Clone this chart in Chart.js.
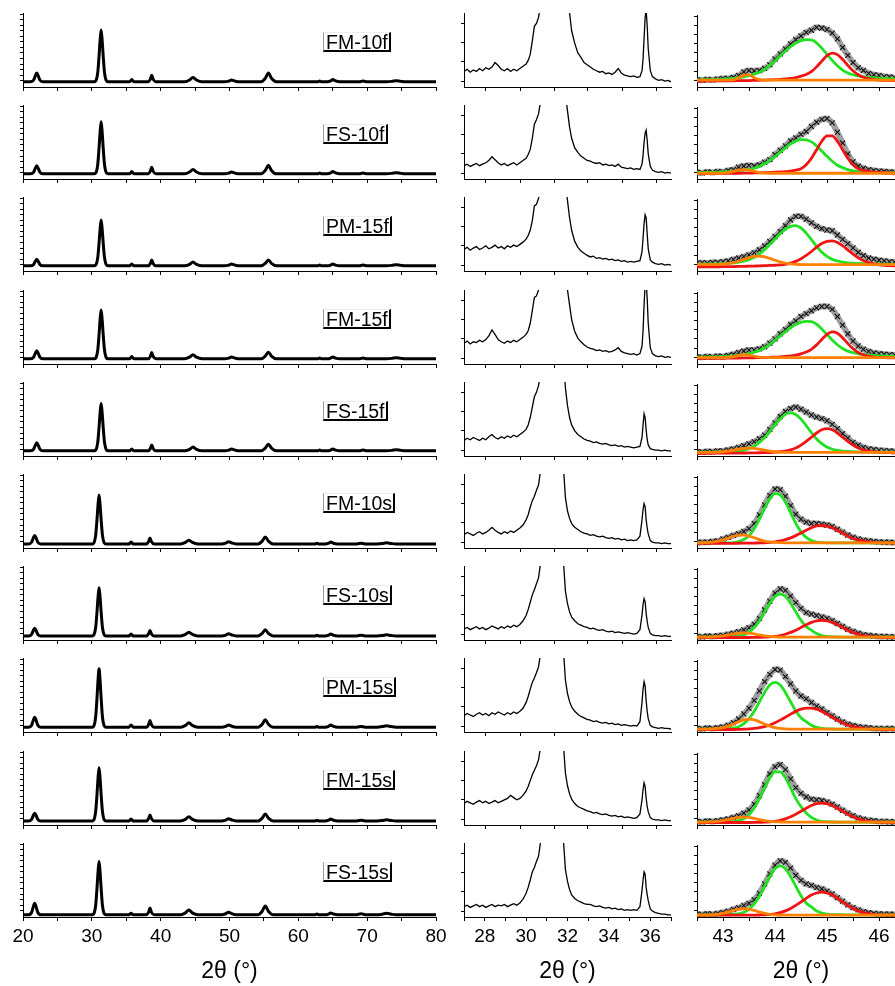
<!DOCTYPE html>
<html><head><meta charset="utf-8">
<script src="https://cdn.jsdelivr.net/npm/chart.js@4/dist/chart.umd.min.js"></script>
<style>
html,body{margin:0;padding:0;background:#fff;overflow:hidden;width:895px;height:986px;position:relative;}
canvas{position:absolute;}
.lbl{position:absolute;font-family:"Liberation Sans",Arial,sans-serif;font-size:19.5px;line-height:16px;color:#000;
 border-left:1px solid #9a9a9a;border-top:1px solid #ececec;border-right:2px solid #000;border-bottom:2px solid #000;
 padding:1px 1px 0 2px;background:#fff;white-space:nowrap;}
</style></head><body>
<script>
// ---------------- DATA ----------------
const sampleNames = ['FM-10f','FS-10f','PM-15f','FM-15f','FS-15f','FM-10s','FS-10s','PM-15s','FM-15s','FS-15s'];

// Column 1: full scans 20-80 deg
const scanX_f = [20,21.1,21.55,21.75,22.0,22.25,22.45,22.9, 30.35,30.85,31.05,31.2,31.35,31.5,31.65,31.85,32.35, 35.5,35.8,36.1, 38.2,38.5,38.7,38.9,39.3, 43.5,44.2,44.7,45.2,46.0, 49.3,49.9,50.3,50.8,51.4, 54.6,55.2,55.65,56.1,56.8, 62.8,63.1,63.4, 64.2,64.7,65.0,65.4,66.0, 68.8,69.4,70.0, 72.8,73.6,74.2,74.9,75.6, 80];
const scanX_s = [20,20.8,21.25,21.45,21.7,21.95,22.15,22.6, 30.05,30.55,30.75,30.9,31.05,31.2,31.35,31.55,32.05, 35.4,35.7,36.0, 37.95,38.25,38.45,38.65,39.05, 42.9,43.6,44.1,44.6,45.4, 48.85,49.45,49.85,50.35,50.95, 54.15,54.75,55.2,55.65,56.35, 62.4,62.7,63.0, 63.9,64.4,64.7,65.1,65.7, 68.5,69.1,69.7, 71.4,72.2,72.8,73.5,74.2, 80];
const fullScan = [
 [7,7,9.4,14.2,19,14.2,9.4,7, 7,18.9,42,63,77,63,42,18.9,7, 7,10,7, 7,10.6,16,10.6,7, 7,9.4,13,9.4,7, 7,8,9.5,8,7, 7,11.8,19,11.8,7, 7,8,7, 7,8.2,10,8.2,7, 7,8,7, 7,7.6,8.5,7.6,7, 7],
 [7,7,9.2,13.6,18,13.6,9.2,7, 7,19,42.3,63.4,77.5,63.4,42.3,19,7, 7,10,7, 7,10.6,16,10.6,7, 7,9.4,13,9.4,7, 7,8,9.5,8,7, 7,11.6,18.5,11.6,7, 7,8,7, 7,8.2,10,8.2,7, 7,8,7, 7,7.6,8.5,7.6,7, 7],
 [7,7,8.8,12.4,16,12.4,8.8,7, 7,17.5,38,56.6,69,56.6,38,17.5,7, 7,9.5,7, 7,10.2,15,10.2,7, 7,9,12,9,7, 7,8,9.5,8,7, 7,10.2,15,10.2,7, 7,8,7, 7,8,9.5,8,7, 7,8,7, 7,7.6,8.5,7.6,7, 7],
 [7,7,9.2,13.6,18,13.6,9.2,7, 7,18.2,40,59.8,73,59.8,40,18.2,7, 7,10,7, 7,10.4,15.5,10.4,7, 7,9.2,12.5,9.2,7, 7,8,9.5,8,7, 7,10.6,16,10.6,7, 7,8,7, 7,8,9.5,8,7, 7,8,7, 7,7.6,8.5,7.6,7, 7],
 [7,7,9.2,13.6,18,13.6,9.2,7, 7,17.9,39,58.2,71,58.2,39,17.9,7, 7,9.5,7, 7,10.2,15,10.2,7, 7,9,12,9,7, 7,8,9.5,8,7, 7,10.6,16,10.6,7, 7,8,7, 7,8,9.5,8,7, 7,8,7, 7,7.6,8.5,7.6,7, 7],
 [5.5,5.5,7.8,12.4,17,12.4,7.8,5.5, 5.5,16.7,38.5,58.3,71.5,58.3,38.5,16.7,5.5, 5.5,8,5.5, 5.5,8.7,13.5,8.7,5.5, 5.5,7.5,10.5,7.5,5.5, 5.5,6.7,8.5,6.7,5.5, 5.5,9.3,15,9.3,5.5, 5.5,6.5,5.5, 5.5,6.5,8,6.5,5.5, 5.5,6.5,5.5, 5.5,6.1,7,6.1,5.5, 5.5],
 [5.5,5.5,7.6,11.8,16,11.8,7.6,5.5, 5.5,16.5,38,57.5,70.5,57.5,38,16.5,5.5, 5.5,8,5.5, 5.5,8.5,13,8.5,5.5, 5.5,7.5,10.5,7.5,5.5, 5.5,6.7,8.5,6.7,5.5, 5.5,8.9,14,8.9,5.5, 5.5,6.5,5.5, 5.5,6.5,8,6.5,5.5, 5.5,6.5,5.5, 5.5,6.1,7,6.1,5.5, 5.5],
 [6.5,6.5,9.2,14.6,20,14.6,9.2,6.5, 6.5,19.9,46,69.7,85.5,69.7,46,19.9,6.5, 6.5,9.5,6.5, 6.5,10.1,15.5,10.1,6.5, 6.5,8.9,12.5,8.9,6.5, 6.5,7.7,9.5,7.7,6.5, 6.5,10.5,16.5,10.5,6.5, 6.5,7.5,6.5, 6.5,7.7,9.5,7.7,6.5, 6.5,7.5,6.5, 6.5,7.3,8.5,7.3,6.5, 6.5],
 [5.5,5.5,7.6,11.8,16,11.8,7.6,5.5, 5.5,17.7,41.5,63.1,77.5,63.1,41.5,17.7,5.5, 5.5,8,5.5, 5.5,8.7,13.5,8.7,5.5, 5.5,7.7,11,7.7,5.5, 5.5,6.7,8.5,6.7,5.5, 5.5,9.3,15,9.3,5.5, 5.5,6.5,5.5, 5.5,6.5,8,6.5,5.5, 5.5,6.5,5.5, 5.5,6.1,7,6.1,5.5, 5.5],
 [3,3,6.1,12.3,18.5,12.3,6.1,3, 3,15.2,39,60.6,75,60.6,39,15.2,3, 3,5,3, 3,6.6,12,6.6,3, 3,5.6,9.5,5.6,3, 3,4.4,6.5,4.4,3, 3,7.8,15,7.8,3, 3,4,3, 3,4,5.5,4,3, 3,4.5,3, 3,3.8,5,3.8,3, 3]
];

// Column 2: 27-37 deg detail
const zoomX = [27.0,27.15,27.3,27.45,27.6,27.75,27.9,28.05,28.2,28.35, 28.5,28.65,28.8,28.95,29.1,29.25,29.4,29.55,29.7,29.85, 30.0,30.1,30.2,30.3,30.4,30.5,30.6,30.7,30.8,31.8, 31.9,32.0,32.1,32.2,32.35,32.5,32.65,32.8,32.95,33.1, 33.25,33.4,33.55,33.7,33.85,34.0,34.15,34.3,34.45,34.6, 34.75,34.9,35.05,35.2,35.35,35.5,35.6,35.65,35.7,35.75, 35.8,35.85,35.9,36.0,36.1,36.25,36.4,36.55,36.7,36.85, 37.0];
const zoomScan = [
 [21,24,20,23,21,25,22,26,24,27, 33,29,24,22,25,21,24,22,25,28, 31,36,44,62,82,86,94,110,140,160, 130,112,100,76,59,46,40,33,30,27, 24,22,20,21,18,19,17,20,25,19, 16,15,14,15,13,14,22,38,66,94, 104,82,52,22,14,11,9,10,8,9, 7],
 [18,20,17,19,21,18,20,22,25,30, 26,22,19,21,18,20,22,19,22,25, 28,33,40,55,74,80,88,105,140,150, 115,92,70,55,42,36,31,28,25,24, 22,21,22,19,20,18,19,17,20,16, 15,14,15,13,14,13,20,32,50,62, 66,52,34,17,12,10,9,10,8,9, 8],
 [29,32,28,31,33,29,31,34,30,32, 35,31,33,30,34,32,35,33,36,39, 43,48,55,68,88,90,98,115,140,150, 118,95,72,55,40,32,27,24,21,19, 20,17,18,16,17,15,16,14,15,13, 14,12,13,12,13,14,26,45,64,76, 72,50,30,15,12,10,9,10,8,9, 8],
 [28,31,27,30,29,32,30,33,38,46, 40,33,30,28,31,29,32,30,33,36, 40,45,55,72,90,92,100,120,150,150, 120,100,80,60,44,35,30,26,23,21, 20,18,19,17,18,16,17,19,22,17, 15,14,13,14,12,14,24,45,80,108, 112,88,55,22,14,11,10,11,9,10, 9],
 [21,24,22,25,23,21,24,22,26,29, 25,23,26,24,27,25,28,26,29,32, 36,42,52,66,80,86,95,112,140,130, 92,68,52,42,34,29,26,23,21,20, 18,19,17,16,17,15,14,15,13,14, 12,13,12,11,12,13,25,42,57,52, 35,22,15,10,9,8,8,7,8,7, 7],
 [18,21,19,17,20,22,19,21,24,28, 24,21,19,22,20,23,21,24,27,31, 38,45,55,64,70,78,85,105,140,110, 68,50,40,33,28,25,22,20,19,17, 18,16,15,16,14,13,14,12,13,11, 12,10,11,10,11,16,38,52,60,56, 38,27,19,10,8,7,7,6,7,6, 6],
 [15,17,14,16,18,15,17,14,16,19, 17,15,18,16,19,17,20,18,21,26, 33,41,51,61,68,76,84,104,140,108, 66,49,38,31,26,22,20,18,17,15, 16,14,13,14,12,11,12,10,11,10, 9,10,9,8,9,14,34,48,56,52, 36,25,17,9,7,6,6,5,6,5, 5],
 [22,25,23,21,24,26,23,25,22,26, 24,27,25,23,26,24,27,25,28,32, 40,48,58,67,73,80,88,106,140,112, 70,52,41,34,28,24,21,19,17,16, 14,15,13,12,13,11,12,10,11,9, 10,9,8,9,8,14,40,58,68,62, 42,28,18,9,7,6,5,6,5,5, 4],
 [29,32,30,28,31,33,30,32,29,31, 33,30,32,34,36,40,37,34,36,40, 46,52,60,68,74,80,88,106,140,110, 70,53,42,35,29,25,23,21,19,18, 16,17,15,14,15,13,12,13,11,12, 10,11,10,9,10,15,34,48,57,52, 36,25,18,10,8,7,7,6,7,6, 6],
 [14,16,13,15,17,14,16,13,15,17, 14,16,15,17,14,16,18,16,19,24, 32,40,50,61,67,75,82,102,140,105, 64,48,37,30,25,22,20,18,17,17, 15,14,15,13,12,13,11,12,10,11, 9,10,9,10,9,14,36,50,61,58, 40,30,22,11,8,6,5,4,4,3, 3]
];

// Column 3: 42.5-46.5 deg peak fits
const fitX = [42.5,42.6,42.7,42.8,42.9,43.0,43.1,43.2,43.3,43.4, 43.5,43.6,43.7,43.8,43.9,44.0,44.1,44.2,44.3,44.4, 44.5,44.6,44.7,44.8,44.9,45.0,45.1,45.2,45.3,45.4, 45.5,45.6,45.7,45.8,45.9,46.0,46.1,46.2,46.3,46.4, 46.5];
const fitData = [
 [10,9.5,10.5,10,11,12,12,13.5,16,21, 23,22.5,23,26,31,39,46,53,60,66, 71,76,79,83,82,80,75,67,55,44, 34,27,23,19,17,16,14.5,14,13,12.5, 12],
 [9.5,8.5,10,9,10.5,10,12,13,16.5,18, 19,18,20,23.5,27,34,40,46,53,57, 62,66,73,79,83,84,78,65,50,35, 24,18,15,13,12,11,10.5,10,9.5,9.5, 9],
 [11,11.5,11,12,12,13,14,16,18,20, 22.5,25.5,29.5,35,41,48,55,63,71,76, 76,72,67,62,59,57,56,50,44,38, 32,26,21.5,18,16.5,15,14,13,12.5,12, 12],
 [10,9.5,10.5,10,11,10.5,12,13.5,16,18, 19.5,19.5,21,24,29,35,42,48,55,60, 66,70,74,78,80,80,76,66,54,42, 32,25,20.5,17.5,15.5,14.5,13.5,13,12.5,12, 11.5],
 [6,5.5,6.5,6,7,7,8.5,10,12,14.5, 17,20,24,29,37,46,55,62,66,68, 65,61,57,54,52,49,44,38,31,25, 19,15,12,10,9,8,7.5,7,6.5,6.5, 6],
 [7.5,8,8,9,10,12.5,15,17.5,20,23, 27,34,46,60,73,82,81,72,59,47, 40,36,34,34,33,32,30,26,22,18, 15,12.5,11,10,9,8.5,8,8,7.5,7.5, 7.5],
 [5,4.5,5.5,5,6,6.5,8,9.5,11.5,14, 17,22,30,42,54,65,71,69,61,52, 44,38,36,34,32,30,27,23,19,15, 12,9.5,7.5,6.5,5.5,5,5,4.5,4.5,4.5, 4],
 [5,4.5,5.5,5,6,7,9.5,13,18,25, 33,44,57,70,80,87,86,77,67,57, 50,46,41,36,32,27,22.5,18,14,11, 9,7.5,6.5,6,5,5,4.5,5,4.5,4.5, 4],
 [5,4.5,5.5,5,6,7,8.5,10.5,13,16.5, 21,29,41,56,71,81,84,77,64,52, 44,39,36,35,34,32,29,25,20.5,16.5, 13,10,8,6.5,6,5,5,4.5,4.5,4.5, 4],
 [4,3.5,4.5,4,5,6.5,8,10.5,13,16, 19,24,33,46,60,72,78,76,68,58, 51,46,44,41,39,36,32,27,22,17, 13,10,7.5,6,5,4.5,4,4,3.5,3.5, 3.5]
];
const fitGreen = [
 [10,10.1,10.2,10.4,10.6,10.9,11.3,12,13,14.2, 15.8,17.8,20.5,24.5,30,36.5,43.5,50,56,61, 64.5,66,65.5,61.5,54,45.5,37,29.5,23.5,19.5, 17,15.3,14.2,13.3,12.7,12.2,11.9,11.6,11.4,11.2, 11],
 [9,9,9.2,9.3,9.5,9.8,10.2,10.7,11.3,12.3, 13.3,15,17.5,21.5,26,31.5,37.5,43.4,48.8,52.7, 54.8,54.5,51.6,46,38.9,31.5,24.7,19.1,15.8,13, 11.2,10.2,9.7,9.4,9.2,9,8.9,8.8,8.7,8.6, 8.5],
 [9.3,9.4,9.5,9.7,9.9,10.2,10.6,11.2,12.2,13.6, 15.7,19,23.5,29.7,36.8,44.4,52.1,58.1,62,63, 59.8,52.7,43.7,34.2,26.2,20.3,16.2,13.9,12.4,11.4, 10.8,10.4,10.1,9.9,9.7,9.6,9.5,9.4,9.3,9.2, 9.2],
 [9.4,9.5,9.6,9.8,10,10.2,10.6,11.2,12.1,13.2, 14.6,16.4,18.8,22.4,27.2,33,39.3,45,50.4,54.8, 58,59.3,58.8,55.3,48.6,41,33.5,26.8,21.5,17.9, 15.7,14.2,13.2,12.4,11.8,11.4,11.1,10.9,10.7,10.5, 10.3],
 [5.2,5.3,5.4,5.5,5.6,5.8,6,6.3,7,8.2, 10.3,13.7,18.9,25.6,34.4,43.8,51.9,57.9,60,57.7, 51.3,42.2,32.5,23.6,17.1,12.4,9.4,7.7,6.8,6.3, 6,5.8,5.6,5.5,5.4,5.3,5.3,5.2,5.2,5.1, 5.1],
 [7,7,7,7,7.1,7.1,7.2,7.6,8.9,11.7, 17.2,26.8,40.1,55.2,68.4,75.6,73.7,63.8,49.2,34.2, 22.5,14.7,10.3,8.2,7.4,7.1,7,7,7,7, 7,7,7,7,7,7,7,7,7,7, 7],
 [4,4,4,4,4,4,4.1,4.4,5.3,7.2, 11,17.4,26.8,39.1,51.1,60.5,64,60.5,51.1,39.1, 27.4,18.6,13.7,8.9,6.2,4.9,4.4,4.2,4.1,4, 4,4,4,4,4,4,4,4,4,4, 4],
 [4,4,4,4,4,4.1,4.5,5.4,7.4,11.6, 18.5,28.8,42,55,65.3,69,65.3,55,42,29.3, 19.8,14.5,9.3,6.4,5,4.4,4.2,4.1,4,4, 4,4,4,4,4,4,4,4,4,4, 4],
 [4,4,4,4,4,4,4.2,4.7,6,8.8, 14.3,23.7,36.6,51.6,65.6,73.9,73.9,65.6,51.6,36.6, 25.5,16.5,10.5,7,5.2,4.5,4.2,4,4,4, 4,4,4,4,4,4,4,4,4,4, 4],
 [3,3,3,3,3,3,3.1,3.5,4.5,6.6, 10.9,18.2,28.9,42.8,56.4,67.1,71,67.1,56.4,42.8, 29.5,19.5,14,8.5,5.5,4,3.4,3.2,3.1,3, 3,3,3,3,3,3,3,3,3,3, 3]
];
const fitRed = [
 [8.3,8.3,8.4,8.4,8.5,8.5,8.6,8.7,8.8,8.9, 9,9.2,9.4,9.6,9.9,10.2,10.6,11.2,12,13.2, 15,17.5,21.5,28,36,43.5,47,45,38.5,30, 22.5,17,13.5,11.5,10.3,9.7,9.3,9.1,9,8.9, 8.8],
 [7.5,7.5,7.6,7.6,7.7,7.7,7.8,7.9,8,8.1, 8.2,8.4,8.6,8.8,9.1,9.4,9.8,10.3,11,12.3, 14.2,19.7,28.8,40.7,52.5,59.9,59.9,52.5,40.7,28.8, 19.7,14.2,12,10.5,9.6,9.1,8.7,8.4,8.2,8, 7.9],
 [5.7,5.7,5.8,5.8,5.9,6,6.1,6.2,6.3,6.5, 6.7,6.9,7.1,7.4,7.7,8,8.4,9.3,11,13.4, 17,21.6,27.1,33.1,38.2,41.3,41.9,39.7,35.2,29.4, 23.5,18.5,14.6,11.7,9.9,8.7,8,7.5,7.2,7, 6.8],
 [7.8,7.8,7.9,7.9,8,8,8.1,8.2,8.3,8.4, 8.5,8.7,8.9,9,9.3,9.6,10,10.6,11.3,12.5, 14.2,16.6,20.4,26.6,34.1,41.3,44.6,42.8,36.5,28.5, 21.3,16.1,12.8,10.9,9.7,9.1,8.8,8.6,8.5,8.4, 8.3],
 [3.8,3.8,3.8,3.9,3.9,3.9,4,4,4.1,4.2, 4.3,4.4,4.5,4.7,4.9,5.3,5.9,6.9,8.5,11.2, 15.2,20.3,26.1,32,36.4,38,36.4,32,26.1,20.3, 15.2,11.2,8.5,6.9,5.9,5.3,4.9,4.6,4.4,4.3, 4.2],
 [6.3,6.3,6.3,6.4,6.4,6.4,6.5,6.5,6.6,6.7, 6.8,6.9,7,7.2,7.8,8.6,9.9,11.7,14.1,17.2, 21,24.8,28.2,30.8,31.3,30.5,28.2,24.8,20.8,16.8, 13.3,11.4,9.8,8.6,7.8,7.4,7.1,7,6.9,6.8, 6.7],
 [3.5,3.5,3.5,3.5,3.5,3.5,3.5,3.5,3.5,3.5, 3.5,3.6,3.7,3.9,4.3,5,6.2,8,10.6,13.7, 17.4,21.1,24.5,26.7,27.5,26.7,24.5,21.1,17.4,13.7, 10.6,8,6.2,5,4.3,3.9,3.7,3.6,3.5,3.5, 3.5],
 [3.5,3.5,3.5,3.5,3.5,3.5,3.5,3.5,3.7,3.9, 4.3,4.9,6,7.6,9.8,12.8,16.5,20.6,24.9,28.7, 31.7,33.3,33.3,31.7,28.7,24.9,20.6,16.5,12.8,9.8, 7.6,6,4.9,4.3,3.9,3.7,3.5,3.5,3.5,3.5, 3.5],
 [3.5,3.5,3.5,3.5,3.5,3.5,3.5,3.5,3.5,3.5, 3.5,3.6,3.8,3.9,4.4,5.2,6.5,8.6,11.4,15, 19.1,23.3,27.1,29.6,30.5,29.6,27.1,23.3,19.1,15, 11.4,8.6,6.5,5.2,4.4,3.9,3.8,3.6,3.5,3.5, 3.5],
 [2.5,2.5,2.5,2.5,2.5,2.5,2.5,2.5,2.5,2.5, 2.5,2.6,2.8,3,3.6,4.5,6.1,8.5,11.9,16.1, 21,26,30.5,33.4,34.5,33.4,30.5,26,21,16.1, 11.9,8.5,6.1,4.5,3.6,3,2.8,2.6,2.5,2.5, 2.5]
];
const fitOrange = [
 [9.5,9.5,9.5,9.5,9.5,9.5,9.6,10,12.5,16.5, 17,13,10.3,9.6,9.5,9.5,9.5,9.5,9.5,9.5, 9.5,9.5,9.5,9.5,9.5,9.5,9.5,9.5,9.5,9.5, 9.5,9.5,9.5,9.5,9.5,9.5,9.5,9.5,9.5,9.5, 9.5],
 [8,8,8,8,8,8,9,10.5,12.2,13, 12.2,10.5,9,8.3,8,8,8,8,8,8, 8,8,8,8,8,8,8,8,8,8, 8,8,8,8,8,8,8,8,8,8, 8],
 [8.8,8.8,8.8,8.8,9.1,9.4,10.2,11.6,13.6,16.1, 18.5,20.3,20.8,19.8,17.6,15,12.7,10.9,9.8,9.2, 9,8.8,8.8,8.8,8.8,8.8,8.8,8.8,8.8,8.8, 8.8,8.8,8.8,8.8,8.8,8.8,8.8,8.8,8.8,8.8, 8.8],
 [9,9,9,9,9,9,9.3,10.2,11.8,13, 12.5,10.8,9.5,9.1,9,9,9,9,9,9, 9,9,9,9,9,9,9,9,9,9, 9,9,9,9,9,9,9,9,9,9, 9],
 [5,5,5,5.1,5.4,5.9,6.8,8,9.4,10.6, 11,10.6,9.4,8,6.8,5.9,5.4,5.1,5,5, 5,5,5,5,5,5,5,5,5,5, 5,5,5,5,5,5,5,5,5,5, 5],
 [7.2,7.3,7.6,8.2,9.4,11.3,13.7,16.3,17.9,18.1, 16.6,14.3,11.7,9.7,8.4,7.7,7.4,7.2,7.2,7.2, 7.2,7.2,7.2,7.2,7.2,7.2,7.2,7.2,7.2,7.2, 7.2,7.2,7.2,7.2,7.2,7.2,7.2,7.2,7.2,7.2, 7.2],
 [4,4,4.1,4.4,4.9,5.7,7,8.4,9.5,10, 9.5,8.4,7,5.7,4.9,4.4,4.1,4,4,4, 4,4,4,4,4,4,4,4,4,4, 4,4,4,4,4,4,4,4,4,4, 4],
 [4,4,4,4.3,4.9,6,8.1,11,14.3,17, 18,17,14.3,11,8.1,6,4.9,4.3,4,4, 4,4,4,4,4,4,4,4,4,4, 4,4,4,4,4,4,4,4,4,4, 4],
 [4,4,4.2,4.4,5,6.1,7.5,9.1,10.5,11, 10.5,9.1,7.5,6.1,5,4.4,4.2,4,4,4, 4,4,4,4,4,4,4,4,4,4, 4,4,4,4,4,4,4,4,4,4, 4],
 [2.5,2.5,2.7,3.1,3.8,5.1,7,9.1,10.8,11.5, 10.8,9.1,7,5.1,3.8,3.1,2.7,2.5,2.5,2.5, 2.5,2.5,2.5,2.5,2.5,2.5,2.5,2.5,2.5,2.5, 2.5,2.5,2.5,2.5,2.5,2.5,2.5,2.5,2.5,2.5, 2.5]
];
const axisTitle = '2θ (°)';
const col2UpperTicks = [28.06, 29.71, 31.35, 32.99, 34.68, 36.32];

// ---------------- LAYOUT / DRAWING ----------------
Chart.defaults.font.family = "'Liberation Sans', Arial, sans-serif";
Chart.defaults.color = '#000';

const ROW_TOP0 = 13, ROW_PITCH = 92.2, AREA_H = 74, AXW = 12, PADT = 3, PADR = 14;
const COLS = [
  {left:23,  width:413, min:20,   max:80,   step:5,   lab:v => (v % 10 === 0 ? String(v) : ''),     yStart:8.5, yStep:7.5,  yN:13},
  {left:464, width:207, min:27,   max:37,   step:1,   lab:v => (v % 2 === 0 ? String(v) : ''),      yStart:7.7, yStep:26.1, yN:4},
  {left:697, width:208, min:42.5, max:46.5, step:0.5, lab:v => (Number.isInteger(v) ? String(v) : ''), yStart:9.5, yStep:12.7, yN:8}
];
const pts = (xs, ys) => xs.map((x, i) => ({x: x, y: ys[i]}));

function panel(col, row, datasets) {
  const c = COLS[col];
  const isBottom = row === 9;
  const top = ROW_TOP0 + Math.round(row * ROW_PITCH);
  const xh = isBottom ? 986 - (top + AREA_H) : 8;
  const W = AXW + c.width + PADR, H = PADT + AREA_H + xh;
  const cv = document.createElement('canvas');
  cv.width = W; cv.height = H;
  cv.style.left = (c.left - AXW) + 'px';
  cv.style.top = (top - PADT) + 'px';
  cv.style.width = W + 'px';
  cv.style.height = H + 'px';
  document.body.appendChild(cv);
  const yTicks = [];
  for (let i = 0; i < c.yN; i++) yTicks.push({value: c.yStart + i * c.yStep});
  new Chart(cv.getContext('2d'), {
    type: 'line',
    data: {datasets: datasets},
    options: {
      responsive: false, animation: false, events: [], devicePixelRatio: 1,
      layout: {padding: {left: 0, right: PADR, top: PADT, bottom: 0}},
      plugins: {legend: {display: false}, tooltip: {enabled: false}},
      elements: {point: {radius: 0}},
      scales: {
        x: {
          type: 'linear', min: c.min, max: c.max,
          border: {display: true, color: '#000', width: 1},
          grid: {display: true, drawOnChartArea: false, drawTicks: true, tickLength: 4, color: '#000', lineWidth: 1},
          ticks: {display: isBottom, stepSize: c.step, autoSkip: false, maxRotation: 0, minRotation: 0,
                  color: '#000', font: {size: 19}, padding: 4, callback: v => c.lab(v)},
          title: {display: isBottom, text: axisTitle, color: '#000', font: {size: 23}, padding: {top: 0, bottom: 1}},
          afterBuildTicks: s => { if (col === 1 && !isBottom) s.ticks = col2UpperTicks.map(v => ({value: v})); },
          afterFit: s => { s.height = xh; s.paddingLeft = 0; s.paddingRight = 0; }
        },
        y: {
          type: 'linear', min: 0, max: 100,
          border: {display: true, color: '#000', width: 1},
          grid: {display: true, drawOnChartArea: false, drawTicks: true, tickLength: 3, color: '#000', lineWidth: 1},
          ticks: {display: false},
          afterBuildTicks: s => { s.ticks = yTicks.slice(); },
          afterFit: s => { s.width = AXW; s.paddingTop = 0; s.paddingBottom = 0; }
        }
      }
    }
  });
  return top;
}

for (let r = 0; r < 10; r++) {
  const xs = r < 5 ? scanX_f : scanX_s;
  const top = panel(0, r, [{
    data: pts(xs, fullScan[r]), borderColor: '#000', borderWidth: 3,
    cubicInterpolationMode: 'monotone', pointRadius: 0, fill: false
  }]);
  const lbl = document.createElement('div');
  lbl.className = 'lbl';
  lbl.textContent = sampleNames[r];
  lbl.style.left = '323px';
  lbl.style.top = (top + 19) + 'px';
  document.body.appendChild(lbl);

  panel(1, r, [{
    data: pts(zoomX, zoomScan[r]), borderColor: '#000', borderWidth: 1.3,
    tension: 0, pointRadius: 0, fill: false
  }]);

  panel(2, r, [
    {data: pts(fitX, fitOrange[r]), borderColor: '#ff8000', borderWidth: 2.8, cubicInterpolationMode: 'monotone', pointRadius: 0},
    {data: pts(fitX, fitRed[r]), borderColor: '#f01414', borderWidth: 2.8, cubicInterpolationMode: 'monotone', pointRadius: 0},
    {data: pts(fitX, fitGreen[r]), borderColor: '#22e022', borderWidth: 2.8, cubicInterpolationMode: 'monotone', pointRadius: 0},
    {data: pts(fitX, fitData[r]), showLine: false, pointStyle: 'crossRot', pointRadius: 3.6,
     pointBorderColor: '#111', pointBackgroundColor: '#111', pointBorderWidth: 1.1},
    {data: pts(fitX, fitData[r]), borderColor: 'rgba(80,80,80,0.55)', borderWidth: 6, tension: 0.3, pointRadius: 0}
  ]);
}
</script>
</body></html>
